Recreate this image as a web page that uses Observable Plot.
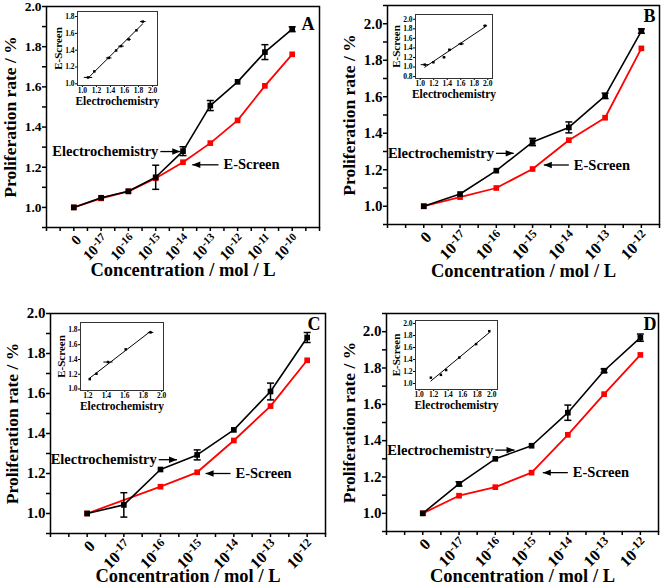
<!DOCTYPE html>
<html><head><meta charset="utf-8">
<script src="https://cdn.jsdelivr.net/npm/d3@7"></script>
<script src="https://cdn.jsdelivr.net/npm/@observablehq/plot@0.6"></script>
<style>
html,body{margin:0;padding:0;background:#fff;}
#root{position:relative;width:661px;height:585px;overflow:hidden;background:#fff;}
#root svg{position:absolute;overflow:visible;background:transparent;}
#root svg, #root svg text{font-family:"Liberation Serif","Times New Roman",serif !important;font-weight:bold;}
</style></head><body><div id="root"></div>
<script>
// ---------- data ----------
const concLabels9 = ["0","10⁻¹⁷","10⁻¹⁶","10⁻¹⁵","10⁻¹⁴","10⁻¹³","10⁻¹²","10⁻¹¹","10⁻¹⁰"];
const concLabels7 = ["0","10⁻¹⁷","10⁻¹⁶","10⁻¹⁵","10⁻¹⁴","10⁻¹³","10⁻¹²"];
const yTitle = "Proliferation rate / %";
const xTitle = "Concentration / mol / L";
const seriesNames = ["Electrochemistry", "E-Screen"];
const panelLetters = ["A", "B", "C", "D"];

const elecA   = [1.00, 1.048, 1.08, 1.15, 1.28, 1.507, 1.625, 1.773, 1.887];
const elecErrA= [0, 0, 0, 0.06, 0.022, 0.025, 0, 0.037, 0.012];
const screenA = [1.00, 1.045, 1.08, 1.145, 1.225, 1.32, 1.433, 1.605, 1.762];

const elecB   = [1.00, 1.067, 1.195, 1.352, 1.432, 1.605, 1.96];
const elecErrB= [0, 0, 0, 0.02, 0.03, 0.015, 0.012];
const screenB = [1.00, 1.05, 1.10, 1.204, 1.362, 1.485, 1.865];

const elecC   = [1.00, 1.043, 1.22, 1.293, 1.418, 1.61, 1.88];
const elecErrC= [0, 0.061, 0, 0.025, 0, 0.042, 0.025];
const screenC = [1.00, null, 1.134, 1.206, 1.365, 1.537, 1.766];

const elecD   = [1.00, 1.162, 1.30, 1.372, 1.554, 1.785, 1.967];
const elecErrD= [0, 0.012, 0, 0, 0.042, 0.01, 0.02];
const screenD = [1.00, 1.097, 1.144, 1.224, 1.432, 1.656, 1.872];

// annotation arrows: [tail x, tip x, y] in data units
const elecArrowA = [3.17, 3.9, 1.278],  screenArrowA = [5.3, 4.34, 1.212];
const elecArrowB = [1.99, 2.48, 1.29],  screenArrowB = [4.0, 3.31, 1.226];
const elecArrowC = [1.95, 2.45, 1.269], screenArrowC = [3.91, 3.23, 1.20];
const elecArrowD = [2.0, 2.53, 1.348],  screenArrowD = [4.0, 3.31, 1.224];

// insets: Electrochemistry (x) vs E-Screen (y)
const insetElecA = [1.08, 1.17, 1.375, 1.48, 1.55, 1.66, 1.77, 1.86];
const insetScrA  = [1.076, 1.148, 1.308, 1.396, 1.448, 1.528, 1.636, 1.74];
const insetErrA  = [0.06, 0, 0.04, 0, 0.04, 0.03, 0, 0.04];
const insetElecB = [1.067, 1.195, 1.352, 1.432, 1.605, 1.96];
const insetScrB  = [1.05, 1.10, 1.204, 1.362, 1.485, 1.865];
const insetErrB  = [0.06, 0.01, 0.02, 0.02, 0.04, 0.03];
const insetElecC = [1.22, 1.293, 1.418, 1.61, 1.88];
const insetScrC  = [1.134, 1.206, 1.365, 1.537, 1.766];
const insetErrC  = [0, 0, 0.05, 0, 0.03];
const insetElecD = [1.162, 1.30, 1.372, 1.554, 1.785, 1.967];
const insetScrD  = [1.097, 1.144, 1.224, 1.432, 1.656, 1.872];
const insetErrD  = [0, 0, 0, 0, 0, 0];

// ---------- drawing ----------
const FONT = "Liberation Serif, Times New Roman, serif";
const root = document.getElementById("root");
const f1 = d3.format(".1f");
const SUP = {"⁻": "-", "⁰": "0", "¹": "1", "²": "2", "³": "3", "⁴": "4", "⁵": "5", "⁶": "6", "⁷": "7", "⁸": "8", "⁹": "9"};

const capSym = {draw(ctx, size){ const r = Math.sqrt(size/Math.PI); ctx.moveTo(-r,0); ctx.lineTo(r,0); }};
const headR = {draw(ctx, size){ const r = Math.sqrt(size/Math.PI); ctx.moveTo(0,0); ctx.lineTo(-2*r,-0.8*r); ctx.lineTo(-2*r,0.8*r); ctx.closePath(); }};
const headL = {draw(ctx, size){ const r = Math.sqrt(size/Math.PI); ctx.moveTo(0,0); ctx.lineTo(2*r,-0.8*r); ctx.lineTo(2*r,0.8*r); ctx.closePath(); }};

function place(svg, left, top) {
  svg.style.left = left + "px"; svg.style.top = top + "px";
  // render power-of-ten labels with a raised exponent
  d3.select(svg).selectAll("text").each(function() {
    const t = this.textContent;
    const m = /^10([⁻⁰¹²³⁴⁵⁶⁷⁸⁹]+)$/.exec(t);
    if (!m) return;
    const exp = Array.from(m[1]).map(c => SUP[c]).join("");
    const sel = d3.select(this);
    sel.text(null);
    sel.append("tspan").text("10");
    sel.append("tspan").attr("dy", "-0.45em").attr("font-size", "0.75em").text(exp);
  });
  root.appendChild(svg);
}

function mainPanel(o) {
  const n = o.labels.length;
  const rows = d3.range(n).map(i => ({i, e: o.elec[i], err: o.err[i], s: o.screen[i]}));
  const errRows = rows.filter(d => d.err > 0);
  const sRows = rows.filter(d => d.s != null);
  const xTicks = d3.range(-2, Math.round(o.xDomain[1]*2) + 1).map(k => k/2);
  const yTicks = d3.range(o.yk[0], o.yk[1] + 1).map(k => k/10);
  const ea = o.elecArrow, sa = o.screenArrow;
  const svg = Plot.plot({
    width: o.w, height: o.h,
    marginLeft: o.mL, marginRight: o.mR, marginTop: o.mT, marginBottom: o.mB,
    style: {fontFamily: FONT, fontWeight: "bold", background: "transparent", overflow: "visible", color: "black"},
    x: {domain: o.xDomain}, y: {domain: o.yDomain},
    marks: [
      Plot.axisX({ticks: xTicks, tickSize: 4, strokeWidth: 1.5, tickFormat: () => "", label: null}),
      Plot.axisY({ticks: yTicks, tickSize: 4, strokeWidth: 1.5, tickPadding: 1, fontSize: o.fs,
        tickFormat: d => (Math.round(d*10) % 2 === 0 && d >= 0.99) ? f1(d) : "", label: null}),
      Plot.text(d3.range(n), {x: d => d, text: d => o.labels[d], frameAnchor: "bottom", rotate: -45,
        textAnchor: "end", lineAnchor: "middle", dx: 5, dy: 10, fontSize: o.xfs}),
      Plot.frame({stroke: "black", strokeWidth: 1.5}),
      Plot.line(sRows, {x: "i", y: "s", stroke: "#ff0000", strokeWidth: 1.8}),
      Plot.dot(sRows, {x: "i", y: "s", symbol: "square", r: 3.2, fill: "#ff0000"}),
      Plot.line(rows, {x: "i", y: "e", stroke: "black", strokeWidth: 1.6}),
      Plot.link(errRows, {x1: "i", x2: "i", y1: d => d.e - d.err, y2: d => d.e + d.err, stroke: "black", strokeWidth: 1.5}),
      Plot.dot(errRows, {x: "i", y: d => d.e - d.err, symbol: capSym, r: 3.5, stroke: "black", strokeWidth: 1.5}),
      Plot.dot(errRows, {x: "i", y: d => d.e + d.err, symbol: capSym, r: 3.5, stroke: "black", strokeWidth: 1.5}),
      Plot.dot(rows, {x: "i", y: "e", symbol: "square", r: 3.2, fill: "black"}),
      // annotations
      Plot.text([seriesNames[0]], {x: ea[0], y: ea[2], textAnchor: "end", dx: -2, fontSize: 14.5}),
      Plot.link([ea], {x1: d => d[0], x2: d => d[1], y1: d => d[2], y2: d => d[2], stroke: "black", strokeWidth: 1.3}),
      Plot.dot([ea], {x: d => d[1], y: d => d[2], symbol: headR, r: 4, fill: "black"}),
      Plot.text([seriesNames[1]], {x: sa[0], y: sa[2], textAnchor: "start", dx: 5, fontSize: 14.5}),
      Plot.link([sa], {x1: d => d[0], x2: d => d[1], y1: d => d[2], y2: d => d[2], stroke: "black", strokeWidth: 1.3}),
      Plot.dot([sa], {x: d => d[1], y: d => d[2], symbol: headL, r: 4, fill: "black"}),
      // titles
      Plot.text([yTitle], {frameAnchor: "left", textAnchor: "middle", lineAnchor: "middle", rotate: -90, dx: o.ytdx, fontSize: 17.5}),
      Plot.text([xTitle], {frameAnchor: "bottom", textAnchor: "middle", lineAnchor: "middle", dy: o.xtdy, fontSize: 18.5}),
      Plot.text([o.letter], {frameAnchor: "top-right", textAnchor: "end", lineAnchor: "top", dx: o.ldx, dy: o.ldy, fontSize: 18})
    ]
  });
  place(svg, o.left, o.top);
}

function inset(o) {
  const mL = 30, mR = 8, mT = 4, mB = 30;
  const rows = o.elec.map((e, i) => ({e, s: o.scr[i], err: o.err[i]}));
  const errRows = rows.filter(d => d.err > 0);
  const xt = d3.range(o.xk[0], o.xk[1] + 1, 2).map(k => k/10);
  const yt = d3.range(o.yk[0], o.yk[1] + 1, 2).map(k => k/10);
  const svg = Plot.plot({
    width: o.w + mL + mR, height: o.h + mT + mB,
    marginLeft: mL, marginRight: mR, marginTop: mT, marginBottom: mB,
    style: {fontFamily: FONT, fontWeight: "bold", background: "transparent", overflow: "visible", color: "black"},
    x: {domain: o.xDomain}, y: {domain: o.yDomain},
    marks: [
      Plot.axisX({ticks: xt, tickSize: 2, tickPadding: 0, fontSize: 7.5, tickFormat: f1, label: null}),
      Plot.axisY({ticks: yt, tickSize: 2, tickPadding: 1, fontSize: 7.5, tickFormat: f1, label: null}),
      Plot.frame({stroke: "#333", strokeWidth: 1}),
      Plot.linearRegressionY(rows, {x: "e", y: "s", stroke: "black", strokeWidth: 1, ci: 0}),
      Plot.link(errRows, {x1: d => d.e - d.err, x2: d => d.e + d.err, y1: "s", y2: "s", stroke: "black", strokeWidth: 1}),
      Plot.dot(rows, {x: "e", y: "s", symbol: "square", r: 1.4, fill: "black"}),
      Plot.text(["E-Screen"], {frameAnchor: "left", textAnchor: "middle", lineAnchor: "middle", rotate: -90, dx: -19, fontSize: 11}),
      Plot.text([seriesNames[0]], {frameAnchor: "bottom", textAnchor: "middle", lineAnchor: "middle", dy: 16, fontSize: 11.5})
    ]
  });
  place(svg, o.x - mL, o.y - mT);
}

mainPanel({left: 0, top: 0, w: 330, h: 290, mL: 46, mR: 11, mT: 6, mB: 63, xDomain: [-1, 9], yDomain: [0.9, 2.0], yk: [9, 20],
  fs: 13.5, xfs: 14.5, labels: concLabels9, elec: elecA, err: elecErrA, screen: screenA, elecArrow: elecArrowA, screenArrow: screenArrowA,
  ytdx: -36, xtdy: 43, letter: panelLetters[0], ldx: -5, ldy: 11});
mainPanel({left: 330, top: 0, w: 331, h: 290, mL: 57, mR: 2, mT: 5, mB: 66, xDomain: [-1, 6.5], yDomain: [0.9, 2.1], yk: [9, 21],
  fs: 15, xfs: 16, labels: concLabels7, elec: elecB, err: elecErrB, screen: screenB, elecArrow: elecArrowB, screenArrow: screenArrowB,
  ytdx: -38, xtdy: 47, letter: panelLetters[1], ldx: -4, ldy: 4});
mainPanel({left: 0, top: 290, w: 330, h: 295, mL: 50, mR: 5, mT: 23, mB: 52, xDomain: [-1, 6.5], yDomain: [0.9, 2.0], yk: [9, 20],
  fs: 15, xfs: 16, labels: concLabels7, elec: elecC, err: elecErrC, screen: screenC, elecArrow: elecArrowC, screenArrow: screenArrowC,
  ytdx: -38.5, xtdy: 43, letter: panelLetters[2], ldx: -5, ldy: 4});
mainPanel({left: 330, top: 290, w: 331, h: 295, mL: 56, mR: 3, mT: 23, mB: 54, xDomain: [-1, 6.5], yDomain: [0.9, 2.1], yk: [9, 21],
  fs: 15, xfs: 16, labels: concLabels7, elec: elecD, err: elecErrD, screen: screenD, elecArrow: elecArrowD, screenArrow: screenArrowD,
  ytdx: -37, xtdy: 45, letter: panelLetters[3], ldx: -2, ldy: 4});

inset({x: 77, y: 11, w: 80, h: 74, xDomain: [0.93, 2.07], yDomain: [0.98, 1.86], xk: [10, 20], yk: [10, 18], elec: insetElecA, scr: insetScrA, err: insetErrA});
inset({x: 415, y: 14, w: 77, h: 64, xDomain: [0.93, 2.07], yDomain: [0.76, 2.1], xk: [10, 20], yk: [8, 20], elec: insetElecB, scr: insetScrB, err: insetErrB});
inset({x: 80, y: 322, w: 83, h: 68, xDomain: [1.12, 2.02], yDomain: [0.98, 1.9], xk: [12, 20], yk: [10, 18], elec: insetElecC, scr: insetScrC, err: insetErrC});
inset({x: 415, y: 320, w: 82, h: 69, xDomain: [0.95, 2.08], yDomain: [0.9, 2.05], xk: [10, 20], yk: [10, 20], elec: insetElecD, scr: insetScrD, err: insetErrD});
</script></body></html>
